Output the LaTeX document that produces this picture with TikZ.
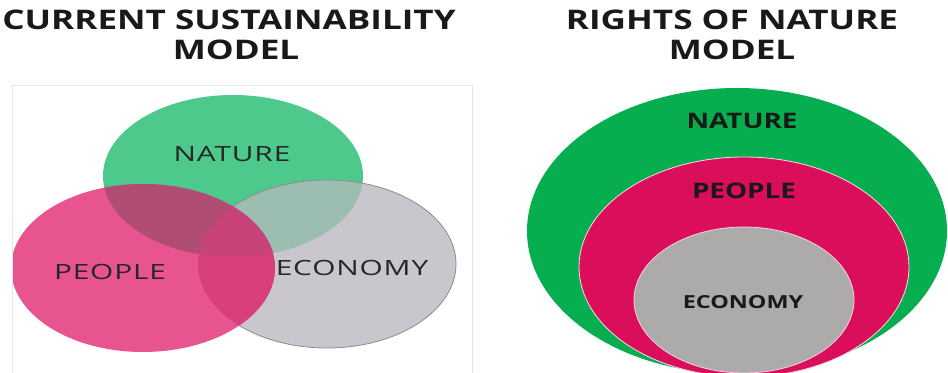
\documentclass[tikz,border=0pt]{standalone}
\usepackage{fontspec}
\setmainfont{Open Sans}
\newfontfamily\headfont[FakeStretch=1.3,WordSpace=1.3]{Open Sans}
\newfontfamily\ronfont[FakeStretch=1.3]{Open Sans}
\newfontfamily\vennfont[FakeStretch=1.42,LetterSpace=4]{Open Sans}
\definecolor{vgreen}{HTML}{4DC98B}
\definecolor{vgray}{HTML}{C9C6CE}
\definecolor{vpink}{HTML}{E8548F}
\definecolor{greenpink}{HTML}{B14D73}
\definecolor{greengray}{HTML}{9BBEB0}
\definecolor{pinkgray}{HTML}{D9407B}
\definecolor{allthree}{HTML}{C7437A}
\definecolor{rgreen}{HTML}{07AE50}
\definecolor{rpink}{HTML}{DB0E5B}
\definecolor{rgray}{HTML}{ADAAAA}
\definecolor{framecol}{HTML}{DDE9E9}
\usetikzlibrary{calc}

\begin{document}
\begin{tikzpicture}[x=0.5pt,y=-0.5pt,
		head/.style={font=\headfont\bfseries\fontsize{13.5}{16}\selectfont,text=black!90,inner sep=0pt,anchor=base},
		vennlab/.style={font=\vennfont\fontsize{10.5}{12}\selectfont,text=black!85,inner sep=0pt},
		ronlab/.style={font=\ronfont\bfseries\fontsize{10.7}{12}\selectfont,text=black!90,inner sep=0pt},
		natpath/.style={insert path={(233,176) ellipse[x radius=130,y radius=81]}},
		ecopath/.style={insert path={(327,264) ellipse[x radius=129,y radius=84]}},
		peoppath/.style={insert path={(143,268) ellipse[x radius=132,y radius=84]}}]
			\useasboundingbox (0,0) rectangle (948,373);
			\fill[white] (0,0) rectangle (948,373);
			% titles
			\node[head] (curtitle) at (229,30) {CURRENT SUSTAINABILITY};
			\node[head] (curmodel) at (236,60) {MODEL};
			\node[head] (rontitle) at (732,30) {RIGHTS OF NATURE};
			\node[head] (ronmodel) at (732,60) {MODEL};
			% current model
			\draw[framecol] (12,380)--(12,85)--(472,85)--(472,380);
			\begin{scope}
				\clip (13,86) rectangle (471,373);
				\fill[vgreen,natpath];
				\fill[vgray,ecopath];
				\begin{scope}
					\clip[natpath];
					\fill[greengray,ecopath];
				\end{scope}
				\draw[vgray!70!black,thin,ecopath];
				\fill[vpink,peoppath];
				\begin{scope}
					\clip[peoppath];
					\fill[greenpink,natpath];
					\fill[pinkgray,ecopath];
					\clip[natpath];
					\fill[allthree,ecopath];
				\end{scope}
			\end{scope}
			\node[vennlab] (nature) at (232,154) {NATURE};
			\node[vennlab] (people) at (110,272) {PEOPLE};
			\node[vennlab] (economy) at (352,268) {ECONOMY};
			% rights of nature model
			\fill[rgreen] (737,231) ellipse[x radius=210,y radius=143];
			\filldraw[rpink,draw=white!85!rpink,thin] (744,267) ellipse[x radius=165,y radius=110];
			\filldraw[rgray,draw=white!80!rpink,thin] (744,300) ellipse[x radius=110,y radius=73];
			\node[ronlab] (rnature) at (742,121) {NATURE};
			\node[ronlab] (rpeople) at (744,191) {PEOPLE};
			\node[ronlab,font=\ronfont\bfseries\fontsize{9}{11}\selectfont] (reconomy) at (743,302) {ECONOMY};
		\end{tikzpicture}
\end{document}
